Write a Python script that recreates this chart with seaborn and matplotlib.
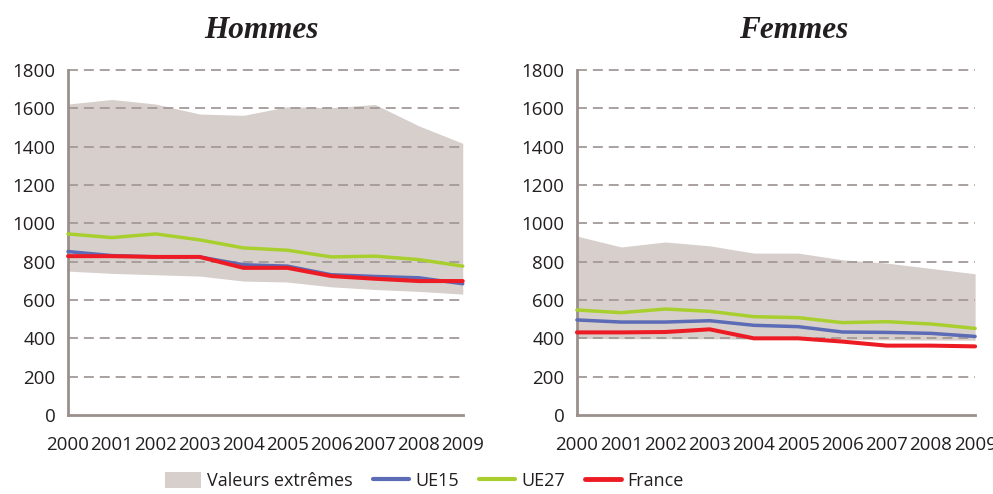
import numpy as np
import pandas as pd
import matplotlib
matplotlib.use("Agg")
import matplotlib.pyplot as plt
import seaborn as sns
from matplotlib.patches import Patch
from matplotlib.lines import Line2D

# données
annees = list(range(2000, 2010))

h_max = [1623, 1647, 1623, 1571, 1564, 1609, 1604, 1621, 1509, 1418]
h_min = [751, 739, 732, 725, 699, 694, 669, 655, 645, 631]
h_ue15 = [853, 832, 825, 825, 784, 777, 732, 723, 716, 685]
h_ue27 = [945, 926, 945, 914, 872, 860, 825, 829, 811, 777]
h_france = [829, 829, 825, 825, 768, 768, 725, 711, 699, 699]

f_max = [934, 877, 903, 883, 845, 845, 810, 793, 765, 737]
f_min = [400, 398, 398, 398, 395, 395, 393, 392, 391, 390]
f_ue15 = [496, 485, 485, 492, 468, 461, 433, 431, 426, 410]
f_ue27 = [548, 534, 553, 541, 513, 508, 482, 487, 475, 452]
f_france = [431, 431, 433, 447, 400, 400, 383, 362, 362, 358]

couleurs = {"UE27": "#a8cf2e", "UE15": "#5b6bb5", "France": "#ed1c24"}
gris = "#d7cfcc"
axe = "#9b8f8c"

sns.set_theme(style="white")
plt.rcParams['font.family'] = ['Open Sans', 'DejaVu Sans']

fig = plt.figure(figsize=(9.93, 4.94), dpi=100)
ax1 = fig.add_axes([0.0685, 0.160, 0.3975, 0.698])
ax2 = fig.add_axes([0.581, 0.160, 0.401, 0.698])


def panneau(ax, titre, xt, vmin, vmax, ue15, ue27, france):
    ax.fill_between(annees, vmin, vmax, color=gris, lw=0, zorder=1)
    df = pd.DataFrame({"annee": annees * 3,
                       "valeur": ue27 + ue15 + france,
                       "serie": ["UE27"] * 10 + ["UE15"] * 10 + ["France"] * 10})
    sns.lineplot(data=df, x="annee", y="valeur", hue="serie", palette=couleurs,
                 linewidth=2.5, legend=False, ax=ax, zorder=3)
    ax.lines[-1].set_linewidth(2.9)
    for s in ["top", "right"]:
        ax.spines[s].set_visible(False)
    for s in ["left", "bottom"]:
        ax.spines[s].set_color(axe)
        ax.spines[s].set_linewidth(2)
    ax.set_xlim(2000, 2009)
    ax.set_ylim(0, 1800)
    ax.set_xticks(annees)
    ax.set_yticks(range(0, 1801, 200))
    for y in range(200, 1801, 200):
        ax.axhline(y, color="#a39a98", lw=1.3, ls=(0, (5.5, 3.3)), zorder=2)
    ax.tick_params(axis="both", direction="out", length=5, width=2, color=axe,
                   labelsize=13.5, labelcolor="#231f20", pad=4)
    ax.tick_params(axis="x", pad=10)
    ax.set_xlabel("")
    ax.set_ylabel("")
    ax.set_title(titre, x=xt, fontsize=22.5, fontweight="bold", fontstyle="italic",
                 family=["Liberation Serif", "DejaVu Serif"], color="#231f20", pad=23)
    for l in ax.lines:
        l.set_clip_on(False)


panneau(ax1, "Hommes", 0.49, h_min, h_max, h_ue15, h_ue27, h_france)
panneau(ax2, "Femmes", 0.545, f_min, f_max, f_ue15, f_ue27, f_france)

poignees = [Patch(facecolor=gris, edgecolor="none"),
            Line2D([0], [0], color=couleurs["UE15"], lw=3),
            Line2D([0], [0], color=couleurs["UE27"], lw=3),
            Line2D([0], [0], color=couleurs["France"], lw=3.5)]
fig.legend(poignees, ["Valeurs extrêmes", "UE15", "UE27", "France"],
           loc="center left", bbox_to_anchor=(0.166, 0.026), ncol=4, frameon=False,
           borderaxespad=0, borderpad=0, fontsize=13,
           handlelength=2.0, handleheight=0.95, handletextpad=0.35,
           columnspacing=1.1, labelcolor="#231f20")

fig.savefig("out.png", dpi=100)
